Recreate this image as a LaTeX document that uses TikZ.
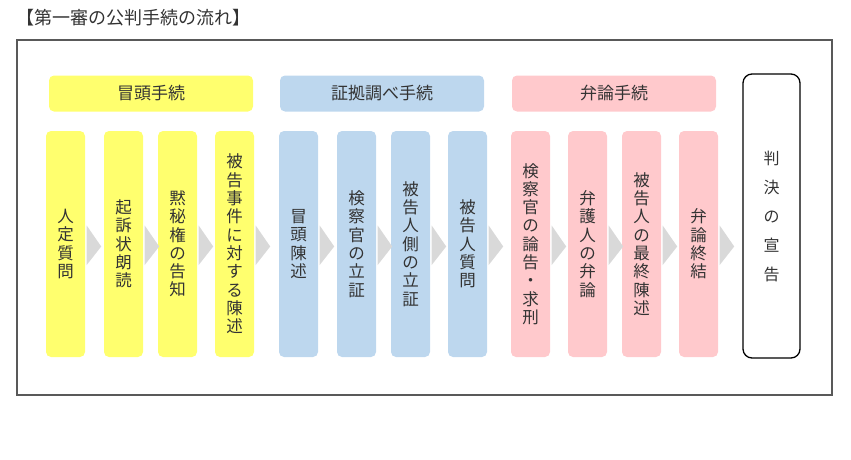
\documentclass[tikz,border=0pt]{standalone}
\usepackage{fontspec}
\newfontfamily\cjk{Noto Sans CJK JP}
\usetikzlibrary{calc}
\definecolor{yel}{HTML}{FFFF6E}
\definecolor{blu}{HTML}{BDD7EE}
\definecolor{pnk}{HTML}{FFC9CC}
\definecolor{arr}{HTML}{D9D9D9}
\definecolor{txt}{HTML}{333333}
\tikzset{
  colbox/.style={rounded corners=5pt, minimum width=39pt, minimum height=226pt, inner sep=0pt, align=center, text=txt, font=\cjk\fontsize{16.5}{18.3}\selectfont},
  headbox/.style={rounded corners=5pt, minimum width=204pt, minimum height=36pt, inner sep=0pt, text=txt, font=\cjk\fontsize{17}{18}\selectfont},
  ybox/.style={colbox, fill=yel},
  bbox/.style={colbox, fill=blu},
  pbox/.style={colbox, fill=pnk},
  chev/.style={fill=arr},
}
\begin{document}
\begin{tikzpicture}[x=1pt,y=-1pt]
\useasboundingbox (0,0) rectangle (851,460);
\node[anchor=west, inner sep=0pt, text=txt, font=\cjk\fontsize{18}{18}\selectfont] (title) at (16,18) {【第一審の公判手続の流れ】};
\draw[draw=black!65, line width=1.5pt] (17,40) rectangle (832,395);
% headers
\node[headbox, fill=yel] (h1) at (151,93.5) {冒頭手続};
\node[headbox, fill=blu] (h2) at (382,93.5) {証拠調べ手続};
\node[headbox, fill=pnk] (h3) at (614,93.5) {弁論手続};
% columns
\node[ybox] (y1) at (65.5,244) {人\\定\\質\\問};
\node[ybox] (y2) at (123.5,244) {起\\訴\\状\\朗\\読};
\node[ybox] (y3) at (177.5,244) {黙\\秘\\権\\の\\告\\知};
\node[ybox] (y4) at (234.5,244) {被\\告\\事\\件\\に\\対\\す\\る\\陳\\述};
\node[bbox] (b1) at (298.5,244) {冒\\頭\\陳\\述};
\node[bbox] (b2) at (356.5,244) {検\\察\\官\\の\\立\\証};
\node[bbox] (b3) at (410.5,244) {被\\告\\人\\側\\の\\立\\証};
\node[bbox] (b4) at (467.5,244) {被\\告\\人\\質\\問};
\node[pbox] (p1) at (530.5,244) {検\\察\\官\\の\\論\\告\\・\\求\\刑};
\node[pbox] (p2) at (587.5,244) {弁\\護\\人\\の\\弁\\論};
\node[pbox] (p3) at (641.5,244) {被\\告\\人\\の\\最\\終\\陳\\述};
\node[pbox] (p4) at (698.5,244) {弁\\論\\終\\結};
\node[draw=black, line width=1.3pt, rounded corners=9pt, minimum width=57pt, minimum height=284pt, inner sep=0pt, align=center, text=txt, font=\cjk\fontsize{16}{29}\selectfont] (v) at (771.5,216) {判\\決\\の\\宣\\告};
% chevrons
\foreach \a in {y1,y2,y3,y4,b1,b2,b3,b4,p1,p2,p3,p4}{
  \fill[chev] ($(\a.east)+(1.5,-18.5)$) -- ($(\a.east)+(16,2.5)$) -- ($(\a.east)+(1.5,21)$) -- cycle;
}
\end{tikzpicture}
\end{document}
